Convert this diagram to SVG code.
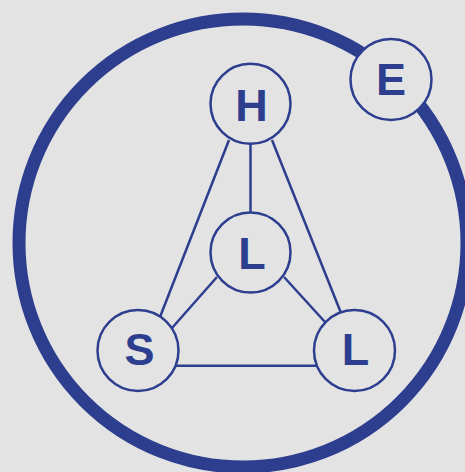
<svg xmlns="http://www.w3.org/2000/svg" width="465" height="472" viewBox="0 0 465 472">
<style>
.bg{fill:#e3e3e3}
.ring{fill:none;stroke:#2d3e8f;stroke-width:13}
.edge{stroke:#2d3e8f;stroke-width:2.5;fill:none}
.node circle{fill:#e3e3e3;stroke:#2d3e8f;stroke-width:2.5}
.node text{font-family:"Liberation Sans",Arial,sans-serif;font-weight:bold;font-size:45px;fill:#2d3e8f;text-anchor:middle}
</style>
<rect class="bg" x="0" y="0" width="465" height="472"/>
<circle class="ring" cx="243" cy="243" r="224"/>
<g id="connectors">
<line class="edge" x1="250.5" y1="104" x2="250.5" y2="252"/>
<line class="edge" x1="229" y1="140" x2="160" y2="317"/>
<line class="edge" x1="272" y1="140" x2="341" y2="313"/>
<line class="edge" x1="217" y1="277" x2="172" y2="328"/>
<line class="edge" x1="284" y1="277" x2="325" y2="322"/>
<line class="edge" x1="160" y1="365.7" x2="330" y2="365.7"/>
</g>
<g id="node-H" class="node"><circle cx="250.5" cy="103.8" r="40"/><text x="251.5" y="121">H</text></g>
<g id="node-E" class="node"><circle cx="391" cy="79.5" r="40.5"/><text x="391" y="95">E</text></g>
<g id="node-L-mid" class="node"><circle cx="250.5" cy="252.5" r="40"/><text x="252" y="268.5">L</text></g>
<g id="node-S" class="node"><circle cx="138" cy="350.5" r="40.5"/><text x="139.5" y="365">S</text></g>
<g id="node-L-right" class="node"><circle cx="354.5" cy="350.5" r="40.5"/><text x="355.5" y="365">L</text></g>
</svg>
